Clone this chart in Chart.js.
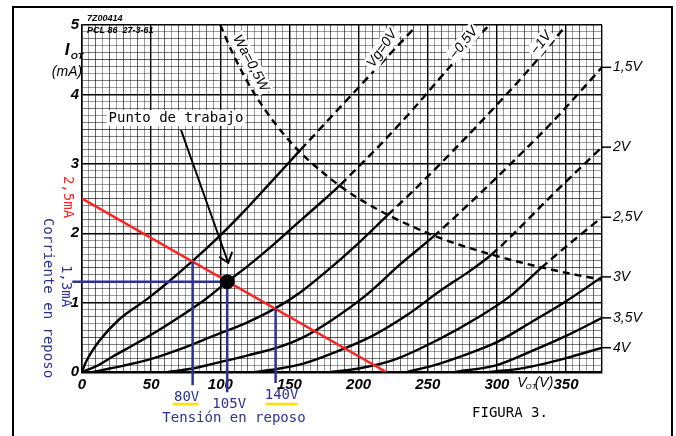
<!DOCTYPE html>
<html>
<head>
<meta charset="utf-8">
<script src="https://cdn.jsdelivr.net/npm/chart.js@4.4.0/dist/chart.umd.min.js"></script>
<style>
  html, body { margin: 0; padding: 0; background: #fff; }
  #wrap { width: 676px; height: 436px; }
</style>
</head>
<body>
<div id="wrap"><canvas id="curvas" width="676" height="436"></canvas></div>
<script>
// Curvas de placa del triodo PCL86: corriente de placa (mA) frente a tension (V)

// una curva por cada tension de rejilla, pares [V, mA]
const vg0   = [[0,0],[3,0.15],[13,0.46],[27,0.76],[47,1.05],[62,1.29],[80,1.6],[100,1.97],[114,2.25],[135,2.7],[158,3.2],[200,4.1],[241,4.97]];
const vgm05 = [[0,0],[10,0.08],[22,0.22],[47,0.5],[71,0.8],[90,1.06],[105,1.3],[120,1.53],[134,1.76],[151,2.06],[176,2.5],[187,2.7],[200,2.96],[214,3.24],[240,3.8],[267,4.42],[293,4.97]];
const vgm1  = [[8,0],[20,0.05],[47,0.17],[71,0.33],[95,0.52],[120,0.72],[140,0.92],[158,1.15],[175,1.42],[199,1.84],[221,2.26],[240,2.62],[267,3.16],[300,3.85],[325,4.4],[349,4.97]];
const vgm15 = [[62,0],[80,0.05],[95,0.12],[120,0.24],[144,0.37],[158,0.48],[180,0.74],[205,1.1],[230,1.55],[254,1.95],[283,2.48],[310,3.0],[340,3.6],[376,4.39]];
const vgm2  = [[125,0],[140,0.04],[160,0.12],[185,0.3],[210,0.52],[235,0.82],[259,1.17],[280,1.45],[296,1.69],[310,1.95],[340,2.55],[376,3.24]];
const vgm25 = [[180,0],[200,0.05],[225,0.17],[259,0.48],[285,0.77],[310,1.1],[332,1.5],[352,1.84],[376,2.23]];
const vgm3  = [[235,0],[255,0.1],[280,0.27],[300,0.43],[325,0.72],[350,1.02],[376,1.37]];
const vgm35 = [[270,0],[300,0.1],[325,0.3],[350,0.52],[376,0.78]];
const vgm4  = [[295,0],[320,0.06],[350,0.2],[376,0.35]];
const gridVoltLabels = ['Vg=0V', '\u22120,5V', '\u22121V', '\u22121,5V', '\u22122V', '\u22122,5V', '\u22123V', '\u22123,5V', '\u22124V'];

// hiperbola de disipacion maxima Wa = 0,5 W
const wa05 = [[100,5],[110,4.55],[125,4],[150,3.33],[175,2.86],[200,2.5],[250,2],[300,1.67],[350,1.43],[376,1.33]];

// recta de carga y punto de trabajo
const loadLine = [[0,2.5],[220,0]];
const workPoint = [105, 1.3];
const restVolts = [80, 105, 140];
const restAmps = [1.59, 1.3, 0.91];
const restLabels = ['80V', '105V', '140V'];

// ejes
const xTicks = [0, 50, 100, 150, 200, 250, 300, 350];
const yTicks = [0, 1, 2, 3, 4, 5];
const xMax = 376, yMax = 5;

const pts = arr => arr.map(p => ({ x: p[0], y: p[1] }));
const curves = [vg0, vgm05, vgm1, vgm15, vgm2, vgm25, vgm3, vgm35, vgm4];

const BLUE = '#2e3192';
const RED = '#ff2222';
const MONO = '"DejaVu Sans Mono", monospace';
const HAND = '"Liberation Sans", Arial, sans-serif';

// por encima de la hiperbola de disipacion las curvas van a trazos
const overLimit = c => {
  const v = (c.p0.parsed.x + c.p1.parsed.x) / 2;
  const i = (c.p0.parsed.y + c.p1.parsed.y) / 2;
  return v * i > 500 ? [8, 5] : undefined;
};

const datasets = [];
datasets.push({ data: pts([workPoint]), pointRadius: 7, pointBackgroundColor: '#000', pointBorderColor: '#000', showLine: false });
restVolts.forEach((v, i) => {
  const bottoms = [-0.19, -0.29, -0.16];
  datasets.push({ data: pts([[v, restAmps[i]], [v, bottoms[i]]]), borderColor: BLUE, borderWidth: 2.5, pointRadius: 0, clip: false });
});
datasets.push({ data: pts([[-7, workPoint[1]], workPoint]), borderColor: BLUE, borderWidth: 2.5, pointRadius: 0, clip: false });
datasets.push({ data: pts(loadLine), borderColor: RED, borderWidth: 2.5, pointRadius: 0 });
curves.forEach(c => {
  datasets.push({
    data: pts(c), borderColor: '#000', borderWidth: 2.4, pointRadius: 0,
    cubicInterpolationMode: 'monotone', segment: { borderDash: overLimit }
  });
});
datasets.push({ data: pts(wa05), borderColor: '#000', borderWidth: 2.4, borderDash: [7, 5], pointRadius: 0, cubicInterpolationMode: 'monotone' });

function text(ctx, str, x, y, font, color, rot, bg) {
  ctx.save();
  ctx.translate(x, y);
  if (rot) ctx.rotate(rot * Math.PI / 180);
  ctx.font = font;
  ctx.textAlign = 'center';
  ctx.textBaseline = 'middle';
  if (bg) {
    const w = ctx.measureText(str).width;
    ctx.fillStyle = '#fff';
    ctx.fillRect(-w / 2 - 2, -8, w + 4, 16);
  }
  ctx.fillStyle = color;
  ctx.fillText(str, 0, 0);
  ctx.restore();
}

const decor = {
  id: 'decor',
  beforeDraw(chart) {
    const ctx = chart.ctx;
    ctx.save();
    ctx.fillStyle = '#fff';
    ctx.fillRect(0, 0, chart.width, chart.height);
    ctx.strokeStyle = '#000';
    ctx.lineWidth = 2;
    ctx.strokeRect(13, 7, 659, 440);
    ctx.restore();
  },
  afterDatasetsDraw(chart) {
    const ctx = chart.ctx;
    const xs = chart.scales.x, ys = chart.scales.y;
    const X = v => xs.getPixelForValue(v), Y = v => ys.getPixelForValue(v);
    const right = chart.chartArea.right;

    // etiquetas de las curvas (arriba, giradas)
    text(ctx, gridVoltLabels[0], X(217), Y(4.66), 'italic 14px ' + HAND, '#000', -55, true);
    text(ctx, gridVoltLabels[1], X(276), Y(4.74), 'italic 14px ' + HAND, '#000', -52, true);
    text(ctx, gridVoltLabels[2], X(332), Y(4.74), 'italic 14px ' + HAND, '#000', -52, true);
    text(ctx, 'Wa=0,5W', X(122), Y(4.45), 'italic 14px ' + HAND, '#000', 62, true);

    // etiquetas a la derecha, al final de cada curva
    ctx.save();
    ctx.strokeStyle = '#000';
    ctx.lineWidth = 1.5;
    ctx.fillStyle = '#000';
    ctx.font = 'italic 14px ' + HAND;
    ctx.textBaseline = 'middle';
    ctx.textAlign = 'left';
    for (let k = 3; k < curves.length; k++) {
      const last = curves[k][curves[k].length - 1];
      const y = Y(last[1]);
      ctx.beginPath();
      ctx.moveTo(right, y);
      ctx.lineTo(right + 9, y);
      ctx.stroke();
      ctx.fillText(gridVoltLabels[k].replace('\u2212', ''), right + 11, y);
    }
    ctx.restore();

    // cabecera de la hoja
    ctx.save();
    ctx.fillStyle = '#000';
    ctx.font = 'italic bold 9px ' + HAND;
    ctx.textAlign = 'left';
    ctx.textBaseline = 'middle';
    ctx.fillText('7Z00414', 87, 19);
    ctx.fillText('PCL 86  27-3-61', 87, 31);
    ctx.restore();

    // titulos de ejes
    text(ctx, 'I', 67, 50, 'italic bold 17px ' + HAND, '#000');
    text(ctx, 'OT', 77, 57, 'italic bold 9px ' + HAND, '#000');
    text(ctx, '(mA)', 67, 72, 'italic 14px ' + HAND, '#000');
    text(ctx, 'V', 522, Y(0) + 11, 'italic 14px ' + HAND, '#000');
    text(ctx, 'OT', 531, Y(0) + 15, 'italic 8px ' + HAND, '#000');
    text(ctx, '(V)', 544, Y(0) + 11, 'italic 14px ' + HAND, '#000');

    // punto de trabajo y flecha
    text(ctx, 'Punto de trabajo', 176, 118, '14px ' + MONO, '#000', 0, true);
    const ax = X(workPoint[0]) + 1, ay = Y(workPoint[1]) - 19;
    ctx.save();
    ctx.strokeStyle = '#000';
    ctx.lineWidth = 2;
    ctx.beginPath();
    ctx.moveTo(181, 130);
    ctx.lineTo(ax, ay);
    ctx.moveTo(ax - 9, ay - 6);
    ctx.lineTo(ax, ay);
    ctx.lineTo(ax + 4, ay - 11);
    ctx.stroke();
    ctx.restore();

    // anotaciones de la recta de carga
    text(ctx, '2,5mA', 68, 197, '14px ' + MONO, RED, 90);
    text(ctx, '1,3mA', 66, 286, '14px ' + MONO, BLUE, 90);
    text(ctx, 'Corriente en reposo', 48, 298, '14px ' + MONO, BLUE, 90);

    const labY = [397, 404, 395];
    restVolts.forEach((v, i) => {
      const cx = X(v) + [-6, 2, 6][i];
      text(ctx, restLabels[i], cx, labY[i], '14px ' + MONO, BLUE);
    });
    ctx.save();
    ctx.strokeStyle = '#ffe000';
    ctx.lineWidth = 2.5;
    ctx.beginPath();
    ctx.moveTo(X(80) - 20, 404); ctx.lineTo(X(80) + 6, 404);
    ctx.moveTo(X(140) - 10, 404); ctx.lineTo(X(140) + 22, 404);
    ctx.stroke();
    ctx.restore();
    text(ctx, 'Tensi\u00f3n en reposo', 234, 418, '14px ' + MONO, BLUE);
    text(ctx, 'FIGURA 3.', 510, 413, '14px ' + MONO, '#000');
  }
};

const xGrid = v => (v % 50 === 0 || v === xMax) ? '#000' : (v % 10 === 0 ? 'rgba(0,0,0,0.6)' : 'rgba(0,0,0,0.38)');
const yGrid = v => {
  const t = Math.round(v * 10);
  return (t % 10 === 0) ? '#000' : (t % 5 === 0 ? 'rgba(0,0,0,0.65)' : (t % 2 === 0 ? 'rgba(0,0,0,0.5)' : 'rgba(0,0,0,0.38)'));
};

new Chart(document.getElementById('curvas'), {
  type: 'line',
  data: { datasets: datasets },
  options: {
    responsive: false,
    animation: false,
    layout: { padding: { left: 0, right: 74, top: 25, bottom: 0 } },
    plugins: { legend: { display: false }, tooltip: { enabled: false } },
    scales: {
      x: {
        type: 'linear', min: 0, max: xMax,
        afterFit: s => { s.height = 64; },
        border: { color: '#000', width: 2.5 },
        grid: {
          drawTicks: false,
          color: c => xGrid(c.tick.value),
          lineWidth: c => (c.tick.value % 50 === 0 || c.tick.value === xMax) ? 1.4 : 1
        },
        ticks: {
          stepSize: 5, autoSkip: false, maxRotation: 0, padding: 4,
          color: '#000', font: { family: 'Liberation Sans', size: 15, style: 'italic', weight: 'bold' },
          callback: v => xTicks.includes(v) ? String(v) : ''
        }
      },
      y: {
        type: 'linear', min: 0, max: yMax,
        afterFit: s => { s.width = 82; },
        border: { color: '#000', width: 1.5 },
        grid: {
          drawTicks: false,
          color: c => yGrid(c.tick.value),
          lineWidth: c => Math.round(c.tick.value * 10) % 10 === 0 ? 1.4 : 1
        },
        ticks: {
          stepSize: 0.1, autoSkip: false, padding: 3,
          color: '#000', font: { family: 'Liberation Sans', size: 15, style: 'italic', weight: 'bold' },
          callback: v => {
            const r = Math.round(v);
            return (Math.abs(v - r) < 1e-6 && yTicks.includes(r)) ? String(r) : '';
          }
        }
      }
    }
  },
  plugins: [decor]
});
</script>
</body>
</html>
